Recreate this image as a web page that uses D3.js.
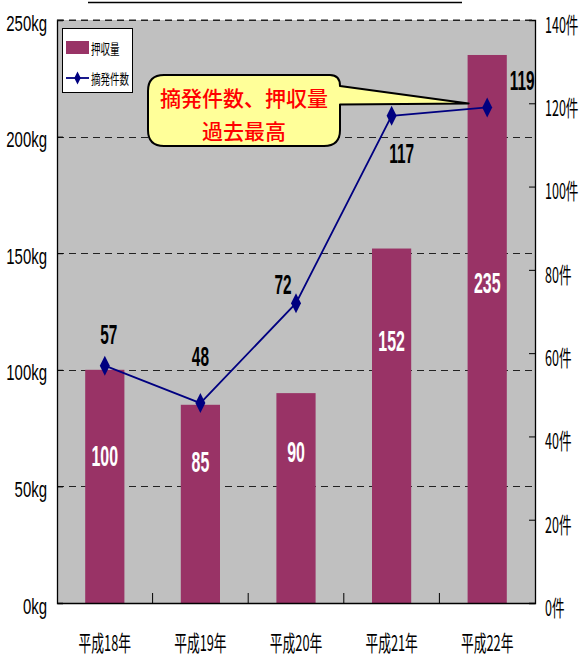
<!DOCTYPE html>
<html>
<head>
<meta charset="utf-8">
<script src="https://cdn.jsdelivr.net/npm/d3@7/dist/d3.min.js"></script>
<style>
  html, body { margin: 0; padding: 0; background: #fff; }
  svg { display: block; }
</style>
</head>
<body>
<svg id="chart" width="585" height="659"></svg>
<script>
// ---------------- data ----------------
const categories = ["平成18年", "平成19年", "平成20年", "平成21年", "平成22年"];
const seizureKg = [100, 85, 90, 152, 235];          // 押収量 (bars, left axis)
const arrestCount = [57, 48, 72, 117, 119];          // 摘発件数 (line, right axis)
const leftTicks = [0, 50, 100, 150, 200, 250];
const rightTicks = [0, 20, 40, 60, 80, 100, 120, 140];
const seriesNames = ["押収量", "摘発件数"];
const calloutLines = ["摘発件数、押収量", "過去最高"];

// ---------------- layout ----------------
const W = 585, H = 659;
const m = { left: 57, right: 50, top: 20, bottom: 56 };
const plotL = m.left, plotR = W - m.right, plotT = m.top, plotB = H - m.bottom;

const svg = d3.select("#chart");
const CJK = "'Noto Sans CJK JP', 'Noto Sans', sans-serif";
const NARROW = "'Liberation Sans Narrow', 'Liberation Sans', 'DejaVu Sans Condensed', sans-serif";

const x = d3.scaleBand().domain(categories).range([plotL, plotR]).padding(0);
const yL = d3.scaleLinear().domain([0, 250]).range([plotB, plotT]);
const yR = d3.scaleLinear().domain([0, 140]).range([plotB, plotT]);
const barW = x.bandwidth() * 0.41;

// helper for horizontally condensed text
function txt(g, px, py, s, o) {
  return g.append("text")
    .attr("transform", `translate(${px},${py}) scale(${o.sx || 1},1)`)
    .attr("text-anchor", o.anchor || "middle")
    .attr("dominant-baseline", "central")
    .attr("font-family", o.family || CJK)
    .attr("font-size", o.size)
    .attr("font-weight", o.weight || "normal")
    .attr("fill", o.fill || "#000")
    .text(s);
}

// title remnant (underline of cut-off title)
svg.append("line").attr("x1", 88).attr("x2", 462).attr("y1", 2.5).attr("y2", 2.5)
  .attr("stroke", "#000").attr("stroke-width", 1.5);

// plot background
svg.append("rect").attr("x", plotL).attr("y", plotT)
  .attr("width", plotR - plotL).attr("height", plotB - plotT).attr("fill", "#C0C0C0");

// dashed gridlines (left axis ticks)
svg.append("g").selectAll("line").data(leftTicks.filter(d => d > 0)).join("line")
  .attr("x1", plotL).attr("x2", plotR)
  .attr("y1", d => Math.round(yL(d)) + 0.5).attr("y2", d => Math.round(yL(d)) + 0.5)
  .attr("stroke", "#222").attr("stroke-width", 1).attr("stroke-dasharray", "7,5");

// bars
svg.append("g").selectAll("rect").data(seizureKg).join("rect")
  .attr("x", (d, i) => x(categories[i]) + x.bandwidth() / 2 - barW / 2)
  .attr("y", d => yL(d))
  .attr("width", barW)
  .attr("height", d => yL(0) - yL(d))
  .attr("fill", "#993366");

// axes (inward ticks)
const axL = d3.axisLeft(yL).tickValues(leftTicks).tickSize(-6).tickFormat("");
const gL = svg.append("g").attr("transform", `translate(${plotL},0)`).call(axL);
const axR = d3.axisRight(yR).tickValues(rightTicks).tickSize(-6).tickFormat("");
const gR = svg.append("g").attr("transform", `translate(${plotR},0)`).call(axR);
const axB = d3.axisBottom(x).tickSize(0).tickFormat("");
const gB = svg.append("g").attr("transform", `translate(0,${plotB})`).call(axB);
[gL, gR, gB].forEach(g => {
  g.select(".domain").attr("stroke", "#000").attr("stroke-width", 1.3);
  g.selectAll(".tick line").attr("stroke", "#000");
});
gB.selectAll(".tick").remove();
// bottom ticks between categories
svg.append("g").selectAll("line").data(categories.slice(1)).join("line")
  .attr("x1", d => x(d)).attr("x2", d => x(d))
  .attr("y1", plotB).attr("y2", plotB - 10).attr("stroke", "#000");
// top dashed border
svg.append("line").attr("x1", plotL).attr("x2", plotR).attr("y1", plotT).attr("y2", plotT)
  .attr("stroke", "#222").attr("stroke-dasharray", "7,5");

// axis labels
const axisLabels = svg.append("g");
leftTicks.forEach(v => txt(axisLabels, 47, yL(v) + 3, v + "kg",
  { anchor: "end", size: 22, family: NARROW, sx: 0.68 }));
rightTicks.forEach(v => txt(axisLabels, 545, yR(v) + 3, v + "件",
  { anchor: "start", size: 22, family: CJK, sx: 0.57 }));
categories.forEach(c => txt(axisLabels, x(c) + x.bandwidth() / 2, 641, c,
  { size: 22, family: CJK, sx: 0.58 }));

// bar value labels (anchors expressed in kg units)
const barLabelKg = [63, 60.5, 64.5, 112.5, 137];
const bl = svg.append("g");
seizureKg.forEach((v, i) => txt(bl, x(categories[i]) + x.bandwidth() / 2, yL(barLabelKg[i]), String(v),
  { size: 29, weight: "bold", fill: "#fff", family: NARROW, sx: 0.55 }));

// line
const lineGen = d3.line()
  .x((d, i) => x(categories[i]) + x.bandwidth() / 2)
  .y(d => yR(d));
svg.append("path").datum(arrestCount).attr("d", lineGen)
  .attr("fill", "none").attr("stroke", "#000080").attr("stroke-width", 1.8);
const diamond = "M0,-10L5,0L0,10L-5,0Z";
svg.append("g").selectAll("path").data(arrestCount).join("path")
  .attr("transform", (d, i) => `translate(${x(categories[i]) + x.bandwidth() / 2},${yR(d)})`)
  .attr("d", diamond).attr("fill", "#000080");

// line value labels (pixel offsets from each point)
const lineLabelOffset = [[4, -31], [0, -46], [-13, -18], [10, 38], [35, -27]];
const ll = svg.append("g");
arrestCount.forEach((v, i) => txt(ll,
  x(categories[i]) + x.bandwidth() / 2 + lineLabelOffset[i][0],
  yR(v) + lineLabelOffset[i][1], String(v),
  { size: 28, weight: "bold", fill: "#000", family: NARROW, sx: 0.55 }));

// legend
const lg = svg.append("g");
lg.append("rect").attr("x", 62.5).attr("y", 28.5).attr("width", 70).attr("height", 64)
  .attr("fill", "#fff").attr("stroke", "#000").attr("stroke-width", 1);
lg.append("rect").attr("x", 66).attr("y", 41).attr("width", 23).attr("height", 13).attr("fill", "#993366");
lg.append("line").attr("x1", 66).attr("x2", 89).attr("y1", 78).attr("y2", 78)
  .attr("stroke", "#000080").attr("stroke-width", 1.8);
lg.append("path").attr("transform", "translate(77.5,78) scale(0.65)").attr("d", diamond).attr("fill", "#000080");
txt(lg, 91, 48, seriesNames[0], { anchor: "start", size: 14, sx: 0.68 });
txt(lg, 91, 78, seriesNames[1], { anchor: "start", size: 14, sx: 0.68 });

// callout
const tipX = x(categories[4]) + x.bandwidth() / 2 - barW / 2 + 1;
const tipY = yR(arrestCount[4]) - 4;
const cx0 = 148, cy0 = 75, cx1 = 340, cy1 = 146, r = 16;
const p = d3.path();
p.moveTo(cx0 + r, cy0);
p.lineTo(cx1 - 10, cy0);
p.quadraticCurveTo(cx1, cy0, cx1, cy0 + 11);
p.lineTo(tipX, tipY);
p.lineTo(cx1, tipY + 1);
p.lineTo(cx1, cy1 - r);
p.quadraticCurveTo(cx1, cy1, cx1 - r, cy1);
p.lineTo(cx0 + r, cy1);
p.quadraticCurveTo(cx0, cy1, cx0, cy1 - r);
p.lineTo(cx0, cy0 + r);
p.quadraticCurveTo(cx0, cy0, cx0 + r, cy0);
p.closePath();
svg.append("path").attr("d", p.toString())
  .attr("fill", "#FFFF99").attr("stroke", "#000").attr("stroke-width", 2)
  .attr("stroke-linejoin", "round");
const cg = svg.append("g");
txt(cg, 244, 97, calloutLines[0], { size: 21, fill: "#FF0000", weight: "500" });
txt(cg, 244, 130, calloutLines[1], { size: 21, fill: "#FF0000", weight: "500" });
</script>
</body>
</html>
